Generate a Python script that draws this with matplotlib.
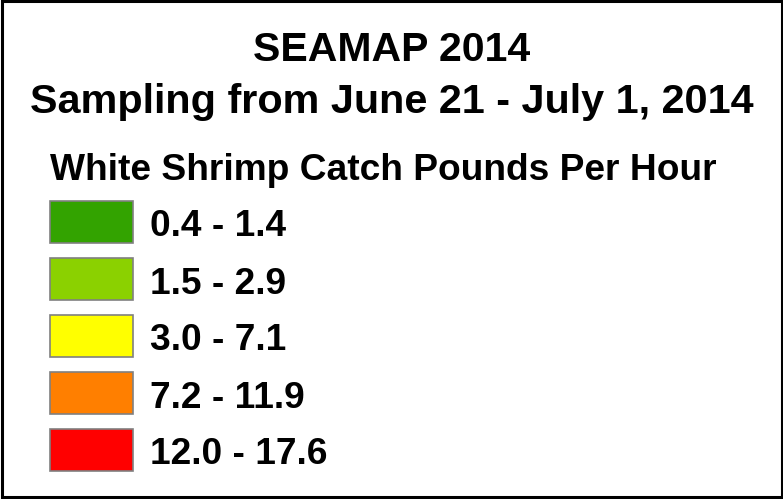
import matplotlib
matplotlib.use("Agg")
import matplotlib.pyplot as plt
from matplotlib.patches import Rectangle

plt.rcParams['font.family'] = ['Liberation Sans', 'DejaVu Sans']

# legend content
title = "SEAMAP 2014"
subtitle = "Sampling from June 21 - July 1, 2014"
legend_title = "White Shrimp Catch Pounds Per Hour"
class_labels = ["0.4 - 1.4", "1.5 - 2.9", "3.0 - 7.1", "7.2 - 11.9", "12.0 - 17.6"]
class_colors = ["#33a300", "#8bd100", "#ffff00", "#ff7f00", "#ff0000"]

W, H = 783, 499
fig = plt.figure(figsize=(W / 100, H / 100), dpi=100)
ax = fig.add_axes([0, 0, 1, 1])
ax.set_xlim(0, W)
ax.set_ylim(H, 0)
ax.axis('off')

# outer frame
ax.add_patch(Rectangle((1.5, 0.5), W - 2.5, H - 3, fill=False, edgecolor='black', linewidth=2.2))

ax.text(W / 2, 50, title, ha='center', va='center', fontsize=29.5, fontweight='bold')
ax.text(W / 2, 102, subtitle, ha='center', va='center', fontsize=29.8, fontweight='bold')
ax.text(50, 171, legend_title, ha='left', va='center', fontsize=26.7, fontweight='bold')

for i, (lab, col) in enumerate(zip(class_labels, class_colors)):
    y = 201 + i * 57
    ax.add_patch(Rectangle((50, y), 83, 42, facecolor=col, edgecolor='#808080', linewidth=1.2))
    ax.text(150, y + 26, lab, ha='left', va='center', fontsize=26.7, fontweight='bold')

fig.savefig("out.png", dpi=100)
